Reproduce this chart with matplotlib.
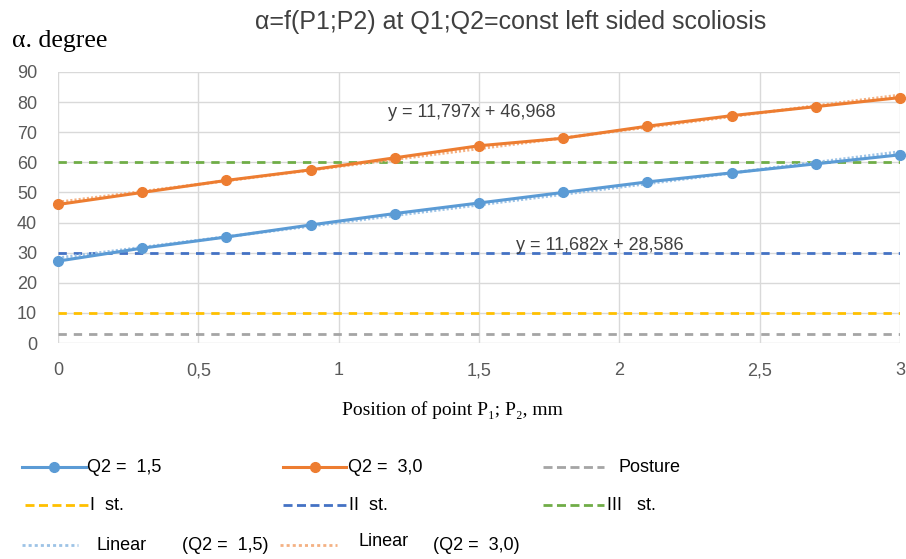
import numpy as np
import matplotlib
matplotlib.use("Agg")
import matplotlib.pyplot as plt
from matplotlib.lines import Line2D

# ---- data ----
x_pos = [0, 0.3, 0.6, 0.9, 1.2, 1.5, 1.8, 2.1, 2.4, 2.7, 3.0]
q2_15 = [27.2, 31.5, 35.2, 39.2, 43.0, 46.5, 50.0, 53.5, 56.5, 59.5, 62.5]
q2_30 = [46.0, 50.0, 54.0, 57.5, 61.5, 65.5, 68.0, 72.0, 75.5, 78.5, 81.5]
levels = {"Posture": 3, "I st.": 10, "II st.": 30, "III st.": 60}
eq_15 = "y = 11,682x + 28,586"
eq_30 = "y = 11,797x + 46,968"
x_ticks = [0, 0.5, 1, 1.5, 2, 2.5, 3]
x_ticklabels = ["0", "0,5", "1", "1,5", "2", "2,5", "3"]
y_ticks = list(range(0, 91, 10))

c_blue = "#5B9BD5"
c_orange = "#ED7D31"
c_gray = "#A5A5A5"
c_yellow = "#FFC000"
c_dblue = "#4472C4"
c_green = "#70AD47"
c_tblue = "#9DC3E6"
c_torange = "#F4B183"

SANS = ["Liberation Sans", "DejaVu Sans"]
SERIF = ["Liberation Serif", "DejaVu Serif"]

plt.rcParams['lines.scale_dashes'] = False
fig = plt.figure(figsize=(9.06, 5.59), dpi=100)
W, H = 906, 559
ax = fig.add_axes([58 / W, 1 - 343 / H, (900 - 58) / W, (343 - 72) / H])

ax.set_xlim(0, 3)
ax.set_ylim(0, 90)
ax.set_xticks(x_ticks)
ax.set_xticklabels(x_ticklabels)
ax.set_yticks(y_ticks)
ax.grid(True, color="#D9D9D9", lw=1)
for s in ax.spines.values():
    s.set_visible(False)
ax.tick_params(length=0, colors="#595959", labelsize=13)
ax.tick_params(axis='y', pad=15)
ax.tick_params(axis='x', pad=14)
for lab in ax.get_xticklabels() + ax.get_yticklabels():
    lab.set_fontfamily(SANS)

dash = (0, (6, 5))
level_colors = {"Posture": c_gray, "I st.": c_yellow, "II st.": c_dblue, "III st.": c_green}
for name, v in levels.items():
    ax.plot([0, 3], [v, v], color=level_colors[name], lw=2, linestyle=dash, zorder=2)

# trend lines
xs = np.array(x_pos)
for ys, c in [(q2_15, c_tblue), (q2_30, c_torange)]:
    k, b = np.polyfit(xs, np.array(ys), 1)
    ax.plot(xs, k * xs + b, color=c, lw=2.2, linestyle=(0, (1.5, 1.5)), zorder=3)

ax.plot(x_pos, q2_15, color=c_blue, lw=2.2, marker="o", ms=7, zorder=4, clip_on=False)
ax.plot(x_pos, q2_30, color=c_orange, lw=2.2, marker="o", ms=7, zorder=4, clip_on=False)

ax.text(1.475, 76.7, eq_30, fontsize=13, family=SANS, color="#404040", ha="center", va="center")
ax.text(1.93, 32.5, eq_15, fontsize=13, family=SANS, color="#404040", ha="center", va="center")

fig.text(511 / W, 1 - 22 / H, "α=f(P1;P2) at Q1;Q2=const left sided scoliosis",
         fontsize=18, family=SANS, color="#404040", ha="center", va="center")
fig.text(12 / W, 1 - 41 / H, "α. degree", fontsize=18.5, color="#000000",
         ha="left", va="center", family=SERIF)
fig.text(452 / W, 1 - 410 / H, "Position of point P₁; P₂, mm", fontsize=14,
         color="#000000", ha="center", va="center", family=SERIF)

# ---- legend (manual) ----
lax = fig.add_axes([0, 0, 1, 1])
lax.set_xlim(0, W)
lax.set_ylim(H, 0)
lax.axis("off")

def ltext(x, y, s):
    lax.text(x, y, s, fontsize=13, family=SANS, color="#000000", va="center")

dash_h = (0, (6.5, 3.2))
dot_h = (0, (2.2, 2.2))

def handle(x0, x1, y, color, ls="-", marker=None, lw=2.2):
    lax.add_line(Line2D([x0, x1], [y, y], color=color, lw=lw, linestyle=ls))
    if marker:
        lax.add_line(Line2D([(x0 + x1) / 2], [y], color=color, marker=marker, ms=7, lw=0))

r1, r2, r3 = 467, 505, 545
handle(22, 86, r1, c_blue, marker="o")
ltext(87, r1, "Q2 =  1,5")
handle(283, 346, r1, c_orange, marker="o")
ltext(348, r1, "Q2 =  3,0")
handle(543, 604, r1, c_gray, ls=dash_h, lw=2)
ltext(618, r1, "Posture")

handle(25, 88, r2, c_yellow, ls=dash_h, lw=2)
ltext(90, r2, "I  st.")
handle(283, 347, r2, c_dblue, ls=dash_h, lw=2)
ltext(349, r2, "II  st.")
handle(543, 604, r2, c_green, ls=dash_h, lw=2)
ltext(607, r2, "III   st.")

handle(22, 78, r3, c_tblue, ls=dot_h, lw=2)
ltext(97, r3, "Linear")
ltext(182, r3, "(Q2 =  1,5)")
handle(280, 337, r3, c_torange, ls=dot_h, lw=2)
ltext(358, r3 - 3, "Linear")
ltext(433, r3, "(Q2 =  3,0)")

fig.savefig("out.png", dpi=100)
